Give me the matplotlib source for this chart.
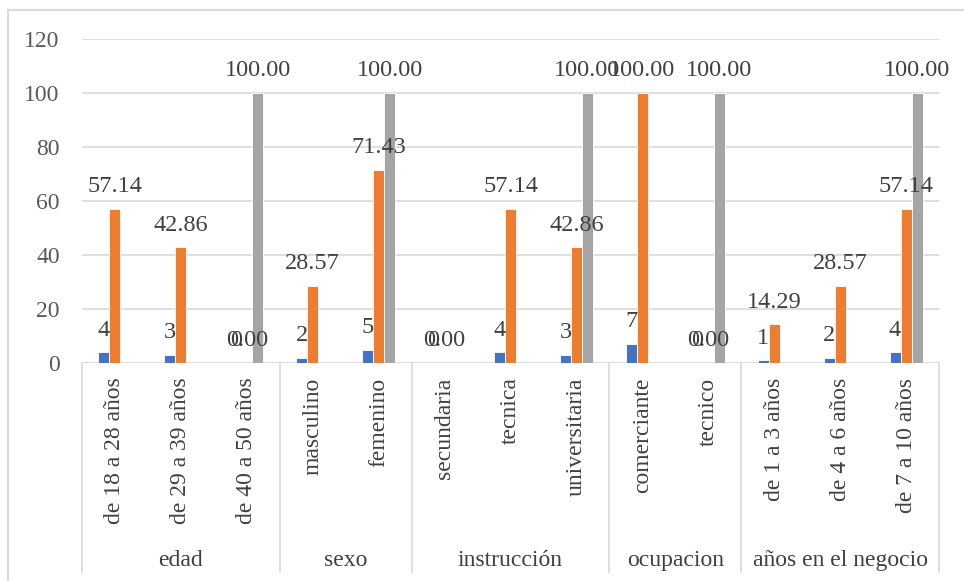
import numpy as np
import matplotlib
matplotlib.use("Agg")
import matplotlib.pyplot as plt
from matplotlib.patches import Rectangle

plt.rcParams['font.family'] = ['Liberation Serif', 'DejaVu Serif']

# datos
categorias = ["de 18 a 28 años", "de 29 a 39 años", "de 40 a 50 años",
              "masculino", "femenino",
              "secundaria", "tecnica", "universitaria",
              "comerciante", "tecnico",
              "de 1 a 3 años", "de 4 a 6 años", "de 7 a 10 años"]
grupos = ["edad", "sexo", "instrucción", "ocupacion", "años en el negocio"]
tam_grupos = [3, 2, 3, 2, 3]
frecuencia = [4, 3, 0, 2, 5, 0, 4, 3, 7, 0, 1, 2, 4]
porcentaje = [57.14, 42.86, 0.00, 28.57, 71.43, 0.00, 57.14, 42.86, 100.00, 0.00, 14.29, 28.57, 57.14]
acumulado = [np.nan, np.nan, 100.00, np.nan, 100.00, np.nan, np.nan, 100.00, np.nan, 100.00, np.nan, np.nan, 100.00]

azul = '#4472C4'
naranja = '#ED7D31'
gris = '#A5A5A5'
texto = '#404040'
linea = '#D9D9D9'

fig = plt.figure(figsize=(9.64, 5.81), dpi=100)
ax = fig.add_axes([82 / 964, 1 - 363 / 581, (939 - 82) / 964, (363 - 39) / 581])

x = np.arange(len(categorias))
w = 1 / 6
series = [(frecuencia, azul, -w, "{:.0f}"),
          (porcentaje, naranja, 0, "{:.2f}"),
          (acumulado, gris, w, "{:.2f}")]
for vals, col, off, fmt in series:
    vals = np.array(vals, dtype=float)
    ax.bar(x + off, vals, width=w, color=col, edgecolor='white', linewidth=0.6, zorder=3)
    for xi, v in zip(x, vals):
        if np.isnan(v):
            continue
        ax.annotate(fmt.format(v), (xi + off, v), xytext=(0, 12), textcoords='offset points',
                    ha='center', va='baseline', fontsize=17.5, color=texto, zorder=4)

ax.set_ylim(0, 120)
ax.set_xlim(-0.5, len(categorias) - 0.5)
ax.set_yticks(np.arange(0, 121, 20))
ax.tick_params(axis='y', length=0, labelsize=17, labelcolor='#595959', pad=16)
ax.set_xticks([])
ax.grid(axis='y', color=linea, linewidth=1.2, zorder=0)
for s in ax.spines.values():
    s.set_visible(False)
ax.axhline(0, color=linea, linewidth=1.2, zorder=2)

# eje de categorias con dos niveles
trans = ax.get_xaxis_transform()
for xi, c in zip(x, categorias):
    ax.text(xi, -0.045, c, rotation=90, ha='center', va='top', fontsize=17,
            color=texto, transform=trans)
bordes = np.concatenate([[0], np.cumsum(tam_grupos)]) - 0.5
for b in bordes:
    ax.plot([b, b], [0, -0.645], color=linea, linewidth=1.2, transform=trans, clip_on=False)
for g, a, b in zip(grupos, bordes[:-1], bordes[1:]):
    ax.text((a + b) / 2, -0.627, g, ha='center', va='baseline', fontsize=17,
            color=texto, transform=trans)

# borde del grafico
fig.patches.append(Rectangle((8 / 964, -0.05), 1.05, 1 - 10 / 581 + 0.05, transform=fig.transFigure,
                             fill=False, edgecolor=linea, linewidth=1.5))

fig.savefig('out.png', dpi=100)
